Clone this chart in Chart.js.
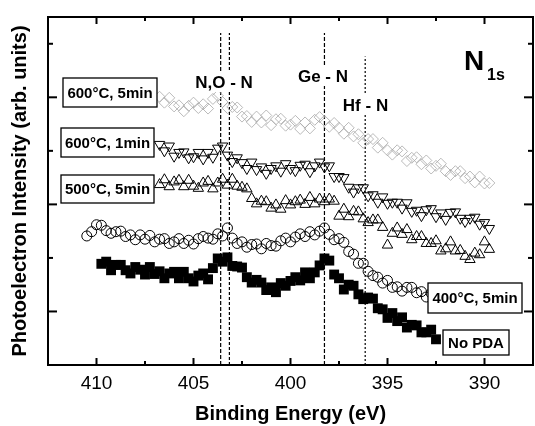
<!DOCTYPE html>
<html>
<head>
<meta charset="utf-8">
<script src="https://cdn.jsdelivr.net/npm/chart.js@4/dist/chart.umd.min.js"></script>
<style>
  html, body { margin: 0; padding: 0; background: #fff; overflow: hidden; }
  #wrap { width: 540px; height: 426px; position: relative; }
</style>
</head>
<body>
<div id="wrap"><canvas id="xps"></canvas></div>
<script>
// binding energy grid (eV), shared by all spectra
const energy = [410.5,410.25,410,409.75,409.5,409.25,409,408.75,408.5,408.25,408,407.75,407.5,407.25,407,406.75,406.5,406.25,406,405.75,
  405.5,405.25,405,404.75,404.5,404.25,404,403.75,403.5,403.25,403,402.75,402.5,402.25,402,401.75,401.5,401.25,401,400.75,
  400.5,400.25,400,399.75,399.5,399.25,399,398.75,398.5,398.25,398,397.75,397.5,397.25,397,396.75,396.5,396.25,396,395.75,
  395.5,395.25,395,394.75,394.5,394.25,394,393.75,393.5,393.25,393,392.75,392.5,392.25,392,391.75,391.5,391.25,391,390.75,
  390.5,390.25,390,389.75];

// intensities (arb. units), null = no point
const pda600_5 = [null,null,null,null,null,null,null,null,null,null,null,null,null,null,null,
  5.01,4.90,4.99,4.83,4.85,4.74,4.84,4.90,4.80,4.87,4.79,4.97,5.03,4.91,4.80,4.82,4.81,4.64,4.65,4.54,
  4.64,4.53,4.66,4.48,4.59,4.60,4.47,4.49,4.56,4.41,4.53,4.42,4.58,4.63,4.56,4.45,4.52,4.43,4.32,4.43,
  4.27,4.31,4.15,4.22,4.22,4.06,4.15,4.01,3.93,4.01,3.99,3.81,3.87,3.88,3.75,3.82,3.67,3.72,3.76,3.62,
  3.55,3.62,3.62,3.49,3.52,3.41,3.52,3.39,3.40];
const pda600_1 = [null,null,null,null,null,null,null,null,null,null,null,null,null,null,null,
  4.12,4.00,4.09,3.90,3.97,3.98,3.87,3.89,3.97,3.85,3.97,3.88,4.05,4.09,3.92,3.80,3.87,3.78,3.67,3.79,
  3.65,3.70,3.58,3.67,3.72,3.62,3.76,3.67,3.63,3.73,3.75,3.61,3.72,3.79,3.70,3.72,3.52,3.52,3.50,3.32,
  3.23,3.31,3.31,3.16,3.18,3.04,3.14,3.02,3.04,3.04,2.93,3.03,2.87,2.89,2.79,2.90,2.92,2.77,2.84,2.72,
  2.85,2.86,2.74,2.68,2.74,2.76,2.63,2.66,2.55];
const pda500_5 = [null,null,null,null,null,null,null,null,null,null,null,null,null,null,null,
  3.37,3.46,3.33,3.42,3.45,3.33,3.45,3.34,3.30,3.40,3.43,3.29,3.40,3.47,3.36,3.47,3.34,3.32,3.29,3.11,
  3.01,3.06,3.05,2.93,2.99,2.91,3.07,2.99,3.05,3.08,3.00,3.13,3.01,3.10,3.05,3.10,3.06,2.78,2.91,2.77,
  2.87,2.86,2.73,2.66,2.71,2.71,2.57,2.24,2.46,2.56,2.44,2.53,2.34,2.40,2.40,2.27,2.27,2.32,2.13,2.17,
  2.30,2.13,2.14,2.03,1.97,2.09,2.06,2.30,2.16];
const pda400_5 = [2.41,2.49,2.62,2.61,2.51,2.46,2.49,2.50,2.40,2.43,2.34,2.43,2.35,2.42,2.30,2.35,2.36,2.27,2.30,2.36,
  2.27,2.33,2.26,2.36,2.40,2.37,2.35,2.45,2.41,2.56,2.37,2.27,2.30,2.20,2.25,2.26,2.17,2.27,2.23,2.22,
  2.32,2.37,2.30,2.39,2.45,2.40,2.49,2.43,2.50,2.56,2.44,2.34,2.36,2.29,2.12,2.07,1.90,1.90,1.75,1.67,
  1.64,1.53,1.58,1.45,1.46,1.38,1.45,1.45,1.35,1.37,1.27,1.34,1.33,1.23,1.16,1.19,1.19,1.08,1.09,
  null,null,null,null,null];
const noPda = [null,null,null,
  1.89,1.93,1.77,1.87,1.87,1.77,1.71,1.83,1.78,1.69,1.83,1.70,1.75,1.62,1.71,1.74,1.62,1.74,1.62,1.56,
  1.67,1.71,1.60,1.81,1.99,1.93,2.01,1.85,1.84,1.82,1.64,1.54,1.59,1.54,1.40,1.45,1.36,1.53,1.48,1.57,
  1.64,1.58,1.73,1.62,1.73,1.86,1.99,1.95,1.69,1.62,1.41,1.50,1.48,1.32,1.23,1.26,1.24,1.06,1.04,0.88,
  0.97,0.82,0.89,0.70,0.75,0.74,0.61,0.61,0.66,0.48,
  null,null,null,null,null,null,null,null,null,null,null];

// ticks
const xMajorTicks = [410, 405, 400, 395, 390];
const xMinorTicks = [407.5, 402.5, 397.5, 392.5];
const yMajorTicks = [1, 3, 5];
const yMinorTicks = [2, 4, 6];

// reference binding energies (dashed markers) and where they stop at the top
const refEnergy = [403.6, 403.15, 398.25, 396.15];
const refTop = [6.2, 6.2, 6.2, 5.76];
const refDash = [[4, 2], [3, 2], [4, 2], [2, 2]];

const FONT = '"Liberation Sans", Arial, sans-serif';

function pts(vals) {
  const out = [];
  vals.forEach((v, i) => { if (v !== null && v !== undefined) out.push({ x: energy[i], y: v }); });
  return out;
}

const datasets = [
  { data: pts(pda600_5), pointStyle: 'rectRot', pointRadius: 5.5, borderColor: '#a8a8a8', borderWidth: 0.8, backgroundColor: 'rgba(0,0,0,0)' },
  { data: pts(pda600_1), pointStyle: 'triangle', pointRotation: 180, pointRadius: 6, borderColor: '#000', borderWidth: 1, backgroundColor: 'rgba(0,0,0,0)' },
  { data: pts(pda500_5), pointStyle: 'triangle', pointRadius: 6, borderColor: '#000', borderWidth: 1, backgroundColor: 'rgba(0,0,0,0)' },
  { data: pts(pda400_5), pointStyle: 'circle', pointRadius: 5, borderColor: '#000', borderWidth: 1, backgroundColor: 'rgba(0,0,0,0)' },
  { data: pts(noPda), pointStyle: 'rect', pointRadius: 7, borderColor: '#000', borderWidth: 0, backgroundColor: '#000' }
];
refEnergy.forEach((e, i) => {
  datasets.push({
    data: [{ x: e, y: 0 }, { x: e, y: refTop[i] }],
    showLine: true, pointRadius: 0, borderColor: '#000', borderWidth: 1.2, borderDash: refDash[i]
  });
});

// label boxes and annotations (pixel layout)
const boxes = [
  { text: '600°C, 5min', x: 63, y: 78, w: 94, h: 29 },
  { text: '600°C, 1min', x: 61, y: 128, w: 93, h: 29 },
  { text: '500°C, 5min', x: 61, y: 175, w: 93, h: 28 },
  { text: '400°C, 5min', x: 428, y: 283, w: 94, h: 30 },
  { text: 'No PDA', x: 443, y: 330, w: 66, h: 25 }
];
const notes = [
  { text: 'N,O - N', x: 224, y: 82 },
  { text: 'Ge - N', x: 323, y: 76 },
  { text: 'Hf - N', x: 365.5, y: 105 }
];

const framePlugin = {
  id: 'frame',
  afterDatasetsDraw(chart) {
    const { ctx, chartArea: a, scales: { x, y } } = chart;
    ctx.save();
    ctx.strokeStyle = '#000';
    ctx.lineWidth = 2;
    ctx.strokeRect(a.left, a.top, a.right - a.left, a.bottom - a.top);

    function seg(x1, y1, x2, y2) {
      ctx.beginPath(); ctx.moveTo(x1, y1); ctx.lineTo(x2, y2); ctx.stroke();
    }
    const xt = (vals, len) => vals.forEach(v => {
      const px = x.getPixelForValue(v);
      seg(px, a.bottom, px, a.bottom - len);
      seg(px, a.top, px, a.top + len);
    });
    const yt = (vals, len) => vals.forEach(v => {
      const py = y.getPixelForValue(v);
      seg(a.left, py, a.left + len, py);
      seg(a.right, py, a.right - len, py);
    });
    xt(xMajorTicks, 7); xt(xMinorTicks, 4);
    yt(yMajorTicks, 9); yt(yMinorTicks, 5);

    // sample label boxes
    ctx.font = 'bold 15px ' + FONT;
    ctx.textAlign = 'center';
    ctx.textBaseline = 'middle';
    ctx.lineWidth = 1.3;
    boxes.forEach(b => {
      ctx.fillStyle = '#fff';
      ctx.fillRect(b.x, b.y, b.w, b.h);
      ctx.strokeRect(b.x, b.y, b.w, b.h);
      ctx.fillStyle = '#000';
      ctx.fillText(b.text, b.x + b.w / 2, b.y + b.h / 2 + 1);
    });

    // peak assignments
    ctx.font = 'bold 17px ' + FONT;
    notes.forEach(n => {
      const w = ctx.measureText(n.text).width;
      ctx.fillStyle = '#fff';
      ctx.fillRect(n.x - w / 2 - 2, n.y - 10, w + 4, 20);
      ctx.fillStyle = '#000';
      ctx.fillText(n.text, n.x, n.y + 1);
    });

    // N 1s
    ctx.textAlign = 'left';
    ctx.textBaseline = 'alphabetic';
    ctx.font = 'bold 28px ' + FONT;
    ctx.fillText('N', 464, 70);
    ctx.font = 'bold 16px ' + FONT;
    ctx.fillText('1s', 487, 80);
    ctx.restore();
  }
};

new Chart(document.getElementById('xps'), {
  type: 'scatter',
  data: { datasets: datasets },
  options: {
    responsive: true,
    maintainAspectRatio: false,
    animation: false,
    layout: { padding: { top: 17, right: 1, left: 0, bottom: 0 } },
    plugins: { legend: { display: false }, tooltip: { enabled: false } },
    scales: {
      x: {
        type: 'linear', reverse: true, min: 387.5, max: 412.5,
        afterBuildTicks: s => { s.ticks = xMajorTicks.map(v => ({ value: v })); },
        grid: { display: false, drawTicks: false },
        border: { display: false },
        ticks: { padding: 9, maxRotation: 0, autoSkip: false, color: '#000', font: { family: FONT, size: 19, lineHeight: 1 } },
        title: { display: true, text: 'Binding Energy (eV)', color: '#000', font: { family: FONT, size: 20, weight: 'bold', lineHeight: 1 }, padding: { top: 2, bottom: 2 } }
      },
      y: {
        min: 0, max: 6.5,
        grid: { display: false, drawTicks: false },
        border: { display: false },
        ticks: { display: false },
        title: { display: true, text: 'Photoelectron Intensity (arb. units)', color: '#000', font: { family: FONT, size: 20, weight: 'bold' }, padding: { top: 8, bottom: 16 } }
      }
    }
  },
  plugins: [framePlugin]
});
</script>
</body>
</html>
